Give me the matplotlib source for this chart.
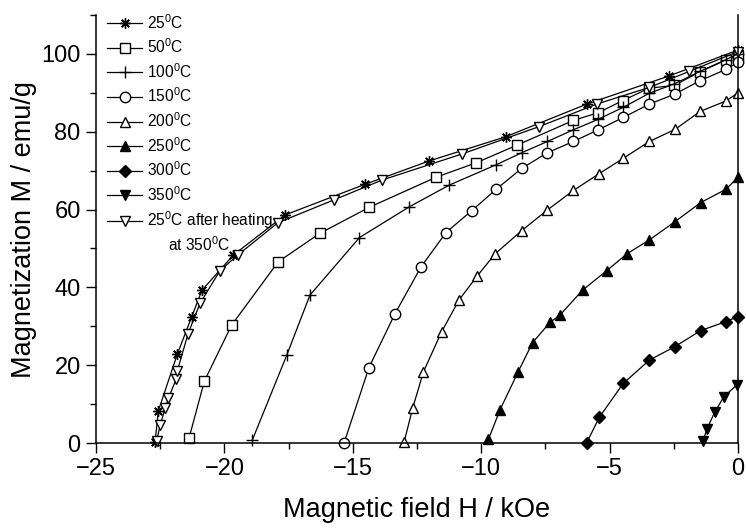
import numpy as np
import matplotlib
matplotlib.use('Agg')
from matplotlib import pyplot as plt
from matplotlib.ticker import MultipleLocator

plt.rcParams['font.family'] = ['Liberation Sans', 'DejaVu Sans']
plt.rcParams['mathtext.fontset'] = 'custom'
plt.rcParams['mathtext.rm'] = 'Liberation Sans'
plt.rcParams['mathtext.default'] = 'regular'

# field H (kOe) and magnetization M (emu/g)
h25 = [-22.7, -22.57, -21.83, -21.27, -20.87, -19.65, -17.64, -14.52, -12.02, -9.05, -5.89, -2.7, 0.0]
m25 = [0.3, 8.3, 22.9, 32.5, 39.3, 48.3, 58.6, 66.5, 72.5, 78.7, 87.1, 94.3, 101.0]

h50 = [-21.38, -20.78, -19.72, -17.9, -16.28, -14.35, -11.76, -10.2, -8.59, -6.41, -5.44, -4.49, -3.46, -2.48, -1.48, -0.48, 0.0]
m50 = [1.2, 15.9, 30.3, 46.6, 53.9, 60.6, 68.3, 72.0, 76.6, 82.9, 84.9, 88.0, 91.2, 91.9, 95.4, 98.4, 99.5]

h100 = [-18.91, -17.57, -16.67, -14.74, -12.8, -11.24, -9.42, -8.42, -7.42, -6.41, -5.44, -4.46, -3.45, -2.48, -1.48, -0.48, 0.0]
m100 = [0.8, 22.6, 38.0, 52.8, 60.7, 66.3, 71.5, 74.6, 77.5, 80.5, 83.2, 86.3, 89.9, 92.3, 95.5, 98.5, 100.0]

h150 = [-15.34, -14.37, -13.36, -12.35, -11.37, -10.37, -9.42, -8.42, -7.42, -6.41, -5.44, -4.46, -3.45, -2.45, -1.48, -0.48, 0.0]
m150 = [0.0, 19.4, 33.2, 45.2, 54.1, 59.7, 65.2, 70.6, 74.6, 77.5, 80.5, 83.7, 87.1, 89.7, 93.1, 96.0, 97.8]

h200 = [-13.0, -12.67, -12.25, -11.54, -10.86, -10.17, -9.46, -8.42, -7.42, -6.41, -5.41, -4.46, -3.45, -2.45, -1.48, -0.47, 0.0]
m200 = [0.3, 8.9, 18.3, 28.6, 36.8, 42.8, 48.6, 54.6, 59.9, 64.9, 69.2, 73.2, 77.5, 80.6, 85.2, 87.9, 90.0]

h250 = [-9.72, -9.27, -8.56, -8.0, -7.32, -6.93, -6.05, -5.11, -4.33, -3.45, -2.45, -1.45, -0.47, 0.0]
m250 = [0.9, 8.5, 18.3, 25.8, 31.0, 32.9, 39.3, 44.3, 48.6, 52.2, 56.9, 61.8, 65.2, 68.3]

h300 = [-5.89, -5.4, -4.47, -3.45, -2.45, -1.45, -0.47, 0.0]
m300 = [0.1, 6.6, 15.3, 21.3, 24.8, 28.9, 31.2, 32.5]

h350 = [-1.35, -1.22, -0.9, -0.55, -0.05]
m350 = [0.6, 3.5, 8.0, 11.9, 14.9]

h25h = [-22.64, -22.5, -22.31, -22.18, -21.88, -21.83, -21.42, -20.95, -20.17, -19.48, -17.92, -15.73, -13.85, -10.74, -7.75, -5.5, -3.45, -1.9, 0.0]
m25h = [0.5, 4.6, 8.9, 11.5, 16.4, 18.6, 28.0, 35.9, 44.3, 48.3, 56.6, 62.5, 67.6, 74.3, 81.3, 87.1, 91.4, 95.5, 100.6]

labels = ['25$^0$C', '50$^0$C', '100$^0$C', '150$^0$C', '200$^0$C',
          '250$^0$C', '300$^0$C', '350$^0$C', '25$^0$C after heating']

series = [
    (h25, m25, (8, 2, 0), 'black'),
    (h50, m50, 's', 'white'),
    (h100, m100, '+', 'black'),
    (h150, m150, 'o', 'white'),
    (h200, m200, '^', 'white'),
    (h250, m250, '^', 'black'),
    (h300, m300, 'D', 'black'),
    (h350, m350, 'v', 'black'),
    (h25h, m25h, 'v', 'white'),
]

fig = plt.figure(figsize=(7.46, 5.32), dpi=100)
ax = fig.add_axes([96/746, 89/532, 642/746, 428/532])

for (h, m, mk, fc), lab in zip(series, labels):
    ms = 7.5
    if mk == 'D':
        ms = 6.5
    elif mk == '+':
        ms = 9
    elif mk == 's':
        ms = 6.5
    ax.plot(h, m, color='black', lw=0.9, marker=mk, ms=ms, mfc=fc, mec='black',
            mew=1.0, label=lab, clip_on=False)

ax.set_xlim(-25, 0)
ax.set_ylim(0, 110)
ax.xaxis.set_major_locator(MultipleLocator(5))
ax.xaxis.set_minor_locator(MultipleLocator(2.5))
ax.yaxis.set_major_locator(MultipleLocator(20))
ax.yaxis.set_minor_locator(MultipleLocator(10))
ax.tick_params(which='both', direction='out', top=False, right=False, width=1.0)
ax.tick_params(which='major', length=7.5, labelsize=17)
ax.tick_params(which='minor', length=4)
ax.spines['top'].set_visible(False)
for s in ['left', 'bottom', 'right']:
    ax.spines[s].set_linewidth(1.1)

ax.set_xlabel('Magnetic field H / kOe', fontsize=19.5, labelpad=12)
ax.set_ylabel('Magnetization M / emu/g', fontsize=19.5, labelpad=3)

ax.legend(loc='upper left', bbox_to_anchor=(0.0167, 1.005), frameon=False,
          fontsize=11.2, numpoints=1, handlelength=2.3, handletextpad=0.3,
          labelspacing=0.38, borderpad=0, borderaxespad=0)
ax.text(-22.2, 51.0, 'at 350$^0$C', fontsize=11.2, ha='left', va='center')

fig.savefig('out.png', dpi=100)
